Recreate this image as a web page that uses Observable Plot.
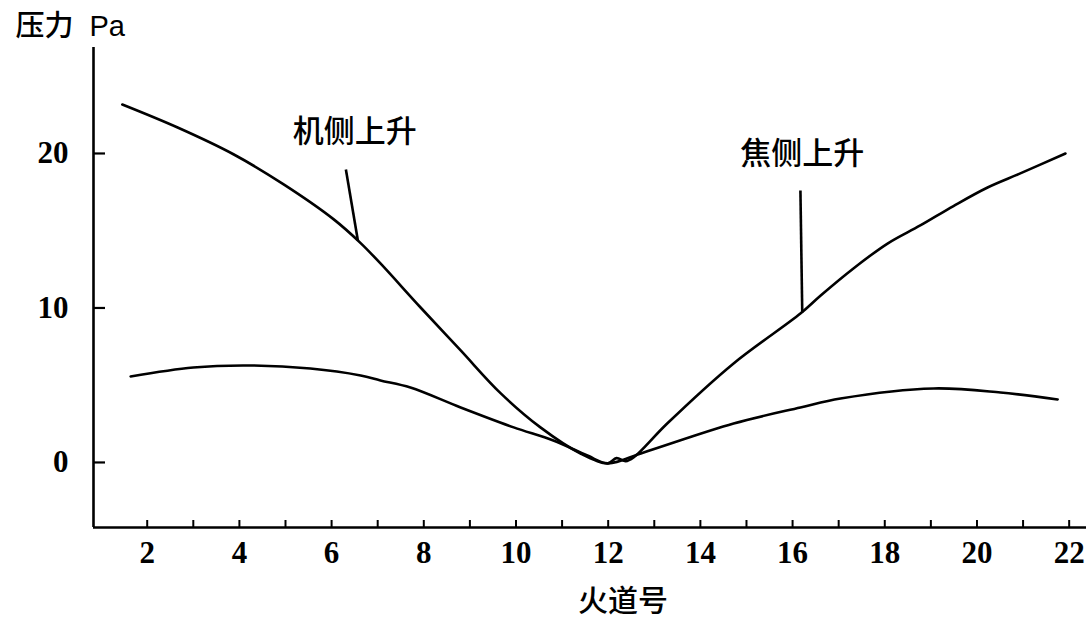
<!DOCTYPE html>
<html>
<head>
<meta charset="utf-8">
<script src="https://cdn.jsdelivr.net/npm/d3@7"></script>
<script src="https://cdn.jsdelivr.net/npm/@observablehq/plot@0.6"></script>
<style>
  html, body { margin: 0; padding: 0; background: #fff; }
</style>
</head>
<body>
<div id="chart"></div>
<script>
// 火道号 (x) and 压力 Pa (y) — upper V-shaped curve (机侧上升 / 焦侧上升)
const upperX = [1.46, 2.66, 3.87, 4.96, 6.04, 6.63, 7.06, 7.93, 8.80, 9.67, 10.53, 11.40, 11.99, 12.18, 12.38, 12.55, 13.28, 14.72, 16.17, 16.61, 17.32, 18.06, 18.77, 19.49, 20.23, 20.94, 21.92];
const upperY = [23.17, 21.68, 19.95, 18.0, 15.75, 14.2, 12.88, 10.03, 7.25, 4.47, 2.27, 0.58, -0.06, 0.28, 0.08, 0.32, 2.52, 6.41, 9.64, 10.81, 12.56, 14.17, 15.34, 16.6, 17.80, 18.71, 20.0];

// lower (flat) curve
const lowerX = [1.64, 3.00, 4.18, 5.54, 6.63, 7.06, 7.71, 8.80, 9.95, 10.81, 11.55, 11.99, 12.77, 14.72, 16.17, 17.04, 19.06, 20.51, 21.75];
const lowerY = [5.57, 6.15, 6.28, 6.08, 5.63, 5.31, 4.85, 3.56, 2.27, 1.42, 0.45, -0.06, 0.65, 2.52, 3.56, 4.14, 4.79, 4.53, 4.08];

// axis ticks
const xMinorTicks = d3.range(2, 23);
const xTickLabels = [2, 4, 6, 8, 10, 12, 14, 16, 18, 20, 22];
const yTickLabels = [0, 10, 20];
const xDomain = [0.835, 22.376];
const yDomain = [-4.21, 26.86];

// annotations
const annLabels = ["机侧上升", "焦侧上升"];
const annLabelX = [6.50, 16.21];
const annLabelY = [21.36, 19.94];
const annLineX1 = [6.31, 16.17];
const annLineY1 = [18.96, 17.6];
const annLineX2 = [6.57, 16.21];
const annLineY2 = [14.37, 9.7];

const upper = upperX.map((x, i) => ({x, y: upperY[i]}));
const lower = lowerX.map((x, i) => ({x, y: lowerY[i]}));
const ann = annLabels.map((t, i) => ({t, x: annLabelX[i], y: annLabelY[i], x1: annLineX1[i], y1: annLineY1[i], x2: annLineX2[i], y2: annLineY2[i]}));

const serif = "'Liberation Serif', 'Times New Roman', serif";
const cjk = "'Noto Sans CJK SC', sans-serif";
const sans = "'Liberation Sans', Arial, sans-serif";

const chart = Plot.plot({
  width: 1086,
  height: 626,
  marginLeft: 93,
  marginRight: 0,
  marginTop: 47,
  marginBottom: 99,
  style: {background: "#fff", color: "#000"},
  x: {domain: xDomain},
  y: {domain: yDomain},
  marks: [
    // axis lines
    Plot.ruleY([yDomain[0]], {x1: xDomain[0], x2: xDomain[1], stroke: "#000", strokeWidth: 2.6}),
    Plot.ruleX([xDomain[0]], {y1: yDomain[0], y2: yDomain[1], stroke: "#000", strokeWidth: 2.6}),
    // inward ticks
    Plot.axisX({ticks: xMinorTicks, tickSize: -7, tickFormat: () => "", strokeWidth: 2, label: null}),
    Plot.axisX({ticks: xTickLabels, tickSize: 0, tickPadding: 13, fontSize: 31, fontWeight: "bold", fontFamily: serif, label: null, fill: "#000"}),
    Plot.axisY({ticks: yTickLabels, tickSize: -12, tickFormat: () => "", strokeWidth: 2.2, label: null}),
    Plot.axisY({ticks: yTickLabels, tickSize: 0, tickPadding: 25, fontSize: 31, fontWeight: "bold", fontFamily: serif, label: null, fill: "#000"}),
    // curves
    Plot.line(upper, {x: "x", y: "y", curve: "catmull-rom", stroke: "#000", strokeWidth: 2.6}),
    Plot.line(lower, {x: "x", y: "y", curve: "catmull-rom", stroke: "#000", strokeWidth: 2.6}),
    // annotations
    Plot.link(ann, {x1: "x1", y1: "y1", x2: "x2", y2: "y2", stroke: "#000", strokeWidth: 2.6}),
    Plot.text(ann, {x: "x", y: "y", text: "t", fontSize: 31, fontWeight: 500, fontFamily: cjk, fill: "#000", textAnchor: "middle", lineAnchor: "middle"}),
    // axis titles
    Plot.text(["压力"], {frameAnchor: "top-left", dx: -78, dy: -21, textAnchor: "start", lineAnchor: "middle", fontSize: 29, fontWeight: 500, fontFamily: cjk, fill: "#000"}),
    Plot.text(["Pa"], {frameAnchor: "top-left", dx: -4, dy: -21, textAnchor: "start", lineAnchor: "middle", fontSize: 29, fontFamily: sans, fill: "#000"}),
    Plot.text(["火道号"], {frameAnchor: "bottom", dx: 33, dy: 74, textAnchor: "middle", lineAnchor: "middle", fontSize: 30, fontWeight: 500, fontFamily: cjk, fill: "#000"})
  ]
});
document.getElementById("chart").appendChild(chart);
</script>
</body>
</html>
